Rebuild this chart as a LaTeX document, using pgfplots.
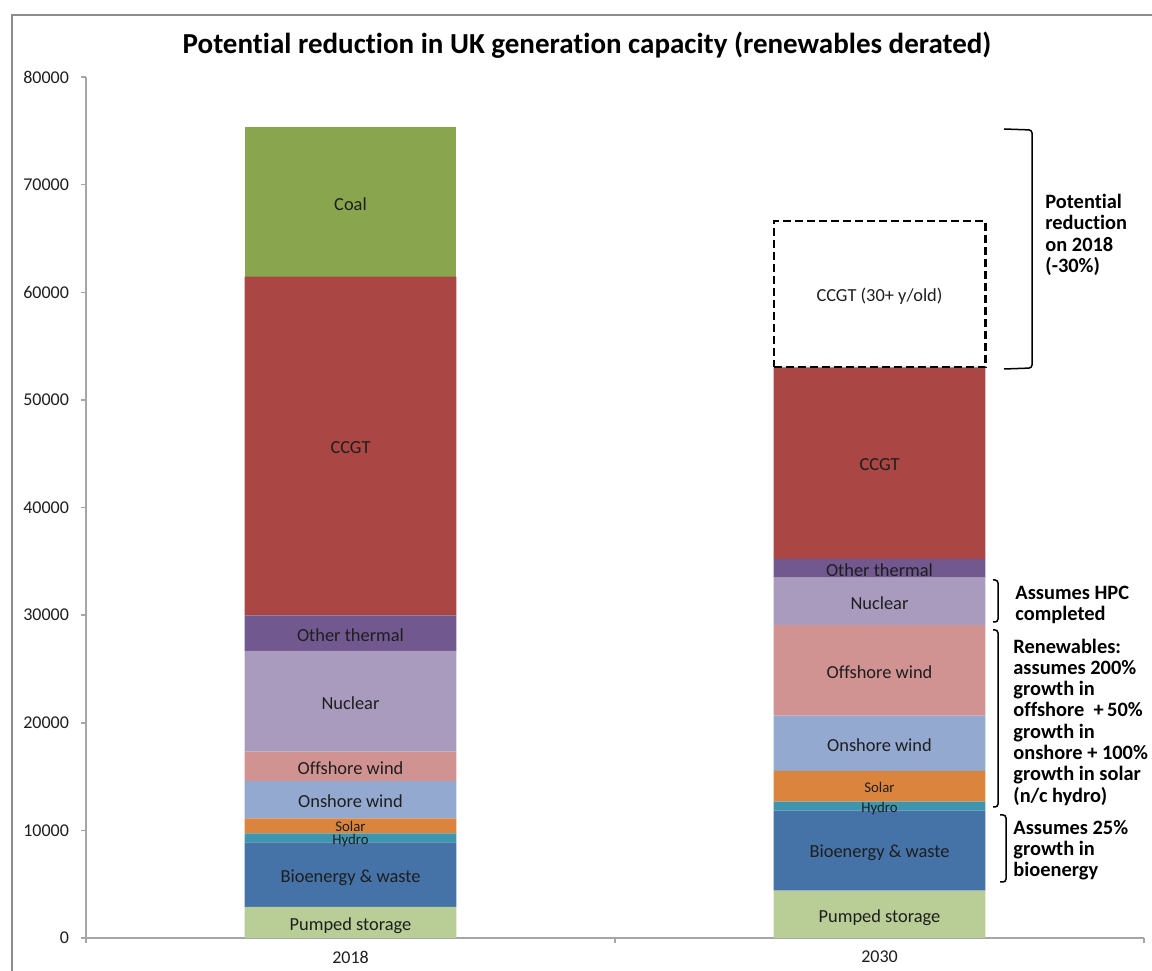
\documentclass[border=0pt]{standalone}
\usepackage{pgfplots}
\pgfplotsset{compat=1.18}
\usepackage{fontspec}
\setmainfont{Carlito}[Ligatures=NoCommon]

\definecolor{cPumped}{HTML}{B9CD96}
\definecolor{cBio}{HTML}{4572A7}
\definecolor{cHydro}{HTML}{3D96AE}
\definecolor{cSolar}{HTML}{DB843D}
\definecolor{cOn}{HTML}{93A9CF}
\definecolor{cOff}{HTML}{D19392}
\definecolor{cNuc}{HTML}{A99BBD}
\definecolor{cOther}{HTML}{71588F}
\definecolor{cCCGT}{HTML}{AA4643}
\definecolor{cCoal}{HTML}{89A54E}
\definecolor{axisgray}{HTML}{A6A6A6}
\definecolor{framegray}{HTML}{8C8C8C}
\definecolor{txt}{HTML}{1E1E1E}

% shared geometry of the plotting area
\pgfplotsset{capgeom/.style={
  at={(43pt,16pt)}, anchor=south west,
  scale only axis, width=529pt, height=430.5pt,
  xmin=-0.5, xmax=1.5, ymin=0, ymax=80000,
  enlargelimits=false, clip=false,
  ybar stacked, bar width=0.4,
}}

\tikzset{
  seg/.style={font=\fontsize{9.2}{11}\selectfont, text=txt, inner sep=0pt, yshift=-0.9pt},
  segsmall/.style={font=\fontsize{7.4}{9}\selectfont, text=txt, inner sep=0pt, yshift=-0.5pt},
  ann/.style={font=\bfseries\fontsize{10.2}{10.65}\selectfont, align=left, inner sep=0pt, anchor=west},
}

\begin{document}
\begin{tikzpicture}
\path[use as bounding box] (0,0) rectangle (576pt,485pt);

\begin{axis}[
  capgeom,
  axis lines*=left,
  axis line style={draw=axisgray, line width=0.75pt},
  tick align=outside,
  major tick length=2.5pt,
  tick style={draw=axisgray, line width=0.75pt},
  ytick={0,10000,...,80000},
  xtick={-0.5,0.5,1.5}, xticklabels={},
  extra x ticks={0,1}, extra x tick labels={2018,2030},
  extra x tick style={major tick length=0pt},
  tick label style={font=\fontsize{9}{11}\selectfont, text=txt},
  x tick label style={yshift=-3pt},
  y tick label style={xshift=-2.5pt},
  /pgf/number format/assume math mode=true,
  /pgf/number format/1000 sep={},
  scaled y ticks=false,
]
% capacity in MW, 2018 and 2030, stacked bottom to top
\addplot[fill=cPumped, draw=none] coordinates {(0,2900) (1,4400)};
\addplot[fill=cBio,    draw=none] coordinates {(0,5990) (1,7430)};
\addplot[fill=cHydro,  draw=none] coordinates {(0,840)  (1,840)};
\addplot[fill=cSolar,  draw=none] coordinates {(0,1390) (1,2850)};
\addplot[fill=cOn,     draw=none] coordinates {(0,3470) (1,5140)};
\addplot[fill=cOff,    draw=none] coordinates {(0,2720) (1,8420)};
\addplot[fill=cNuc,    draw=none] coordinates {(0,9360) (1,4400)};
\addplot[fill=cOther,  draw=none] coordinates {(0,3310) (1,1740)};
\addplot[fill=cCCGT,   draw=none] coordinates {(0,31470) (1,17810)};
\addplot[fill=cCoal,   draw=none] coordinates {(0,13860) (1,0)};
\end{axis}

% retiring CCGT drawn as an outlined block on top of the 2030 stack,
% plus the segment names over the bars
\begin{axis}[capgeom, hide axis]
\addplot[draw=none, fill=none] coordinates {(1,53030)};
\addplot[draw=black, fill=none, line width=1.2pt, dash pattern=on 4pt off 2pt] coordinates {(1,13590)};

% 2018
\node[seg] at (axis cs:0,1300)  {Pumped storage};
\node[seg] at (axis cs:0,5800)  {Bioenergy \& waste};
\node[segsmall] at (axis cs:0,9150) {Hydro};
\node[segsmall] at (axis cs:0,10450) {Solar};
\node[seg] at (axis cs:0,12855) {Onshore wind};
\node[seg] at (axis cs:0,15950) {Offshore wind};
\node[seg] at (axis cs:0,21990) {Nuclear};
\node[seg] at (axis cs:0,28325) {Other thermal};
\node[seg] at (axis cs:0,45715) {CCGT};
\node[seg] at (axis cs:0,68380) {Coal};
% 2030
\node[seg] at (axis cs:1,2100)  {Pumped storage};
\node[seg] at (axis cs:1,8050)  {Bioenergy \& waste};
\node[segsmall] at (axis cs:1,12120) {Hydro};
\node[segsmall] at (axis cs:1,14060) {Solar};
\node[seg] at (axis cs:1,18090) {Onshore wind};
\node[seg] at (axis cs:1,24870) {Offshore wind};
\node[seg] at (axis cs:1,31280) {Nuclear};
\node[seg] at (axis cs:1,34350) {Other thermal};
\node[seg] at (axis cs:1,44125) {CCGT};
\node[seg] at (axis cs:1,59825) {CCGT (30+ y/old)};
\end{axis}

\begin{scope}[x=0.5pt, y=-0.5pt, shift={(0pt,485pt)}]
  % chart frame
  \draw[framegray, line width=0.75pt] (12,975) -- (12,15) -- (1160,15);
  % title
  \node[font=\bfseries\fontsize{14.5}{16}\selectfont, text=black] at (587,45)
    {Potential reduction in UK generation capacity (renewables derated)};
  % brackets
  \begin{scope}[line width=0.75pt, rounded corners=1.5pt]
    \draw (1004,129) -- (1032,130) -- (1032,368) -- (1004,369);
    \draw (993,580) -- (998,580) -- (998,622) -- (993,622);
    \draw (993,630) -- (998,630) -- (998,807) -- (993,807);
    \draw (1000,815) -- (1006,815) -- (1006,882) -- (1000,882);
  \end{scope}
  % annotations
  \node[ann] at (1045,235) {Potential\\reduction\\on 2018\\(-30\%)};
  \node[ann] at (1015,605) {Assumes HPC\\completed};
  \node[ann] at (1013,722) {Renewables:\\assumes 200\%\\growth in\\offshore~~+\,50\%\\growth in\\onshore + 100\%\\growth in solar\\(n/c hydro)};
  \node[ann] at (1013,850) {Assumes 25\%\\growth in\\bioenergy};
\end{scope}
\end{tikzpicture}
\end{document}
